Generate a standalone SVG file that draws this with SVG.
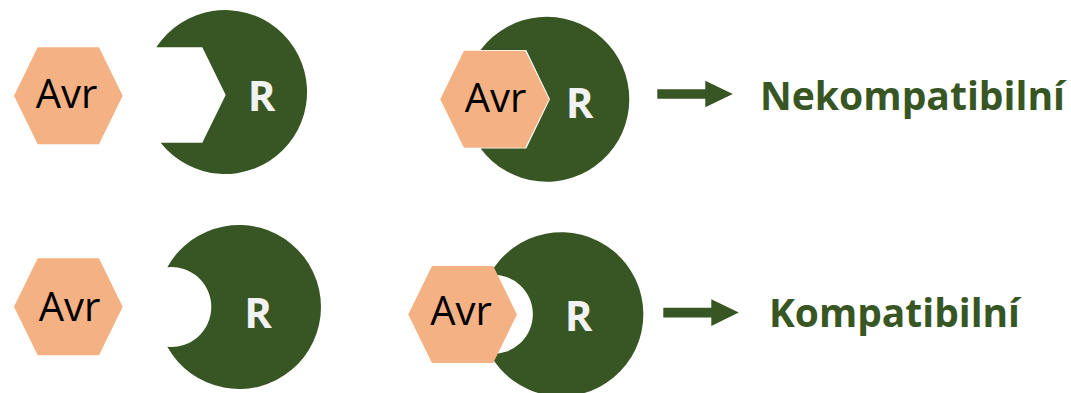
<svg xmlns="http://www.w3.org/2000/svg" width="1071" height="393" viewBox="0 0 1071 393">
  <style>
    .hex { fill: #f4b183; }
    .receptor { fill: #375623; }
    .avr { font-family: "Open Sans", "Liberation Sans", sans-serif; font-size: 40px; fill: #000000; text-anchor: middle; }
    .r { font-family: "Open Sans", "Liberation Sans", sans-serif; font-weight: bold; font-size: 42px; fill: #f2f2f2; text-anchor: middle; }
    .result { font-family: "Open Sans", "Liberation Sans", sans-serif; font-weight: bold; font-size: 40px; fill: #375623; }
    .arrow { fill: #375623; }
  </style>
  <defs>
    <!-- hexagonal effector, centred on the origin -->
    <polygon id="hexagon" points="-54.35,0 -30.65,-48.5 30.65,-48.5 54.35,0 30.65,48.5 -30.65,48.5"/>
    <!-- block arrow, starting at the origin and pointing right -->
    <polygon id="blockArrow" points="0,-4.8 48,-4.8 48,-13.3 75.5,0 48,13.3 48,4.8 0,4.8"/>
  </defs>

  <rect width="1071" height="393" fill="#ffffff"/>

  <!-- Row 1: angular pocket -->
  <g id="avr-top-left">
    <use href="#hexagon" class="hex" x="68.35" y="95.8"/>
    <text class="avr" x="66.5" y="108.3">Avr</text>
  </g>
  <g id="r-top-left">
    <path class="receptor" d="M156.3 47.3 L202.3 47.3 L225.7 95 L202.3 142.7 L160.6 142.7 A82 82 0 1 0 156.3 47.3 Z"/>
    <text class="r" x="261.5" y="110.7">R</text>
  </g>

  <g id="complex-top">
    <path class="receptor" d="M480.6 50 L526.3 50 L550 99.2 L526.3 148.5 L480.6 148.5 A82.5 82.5 0 1 0 480.6 50 Z"/>
    <use href="#hexagon" class="hex" x="494.6" y="99.2"/>
    <text class="avr" x="495.5" y="111.7">Avr</text>
    <text class="r" x="579.5" y="118.3">R</text>
  </g>

  <!-- Row 2: rounded pocket -->
  <g id="avr-bottom-left">
    <use href="#hexagon" class="hex" x="68.35" y="306.8"/>
    <text class="avr" x="69.5" y="320.7">Avr</text>
  </g>
  <g id="r-bottom-left">
    <path class="receptor" d="M167.3 267.2 A40 40 0 1 1 167.3 346.8 A82 82 0 1 0 167.3 267.2 Z"/>
    <text class="r" x="258" y="327.7">R</text>
  </g>

  <g id="complex-bottom">
    <path class="receptor" d="M489.4 275 A39.5 39.5 0 1 1 489.4 353.6 A82 82 0 1 0 489.4 275 Z"/>
    <use href="#hexagon" class="hex" x="462.6" y="314.5"/>
    <text class="avr" x="461" y="325">Avr</text>
    <text class="r" x="578.7" y="331">R</text>
  </g>

  <!-- Result arrows -->
  <g id="connectors">
    <use href="#blockArrow" class="arrow" x="657.3" y="94"/>
    <use href="#blockArrow" class="arrow" x="663.3" y="312.6"/>
  </g>

  <g id="label-incompatible">
    <text class="result" x="760" y="110" textLength="305" lengthAdjust="spacingAndGlyphs">Nekompatibilní</text>
  </g>
  <g id="label-compatible">
    <text class="result" x="769" y="326.7" textLength="251" lengthAdjust="spacingAndGlyphs">Kompatibilní</text>
  </g>
</svg>
